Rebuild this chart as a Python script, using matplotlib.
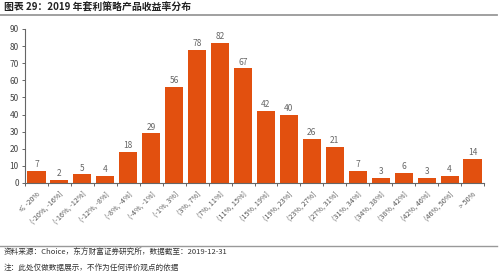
import matplotlib
matplotlib.use("Agg")
import matplotlib.pyplot as plt
from matplotlib.lines import Line2D

plt.rcParams['font.family'] = ['Noto Sans CJK SC', 'DejaVu Sans']

categories = ["≤ -20%", "(-20%, -16%]", "(-16%, -12%]", "(-12%, -8%]", "(-8%, -4%]",
              "(-4%, -1%]", "(-1%, 3%]", "(3%, 7%]", "(7%, 11%]", "(11%, 15%]",
              "(15%, 19%]", "(19%, 23%]", "(23%, 27%]", "(27%, 31%]", "(31%, 34%]",
              "(34%, 38%]", "(38%, 42%]", "(42%, 46%]", "(46%, 50%]", "> 50%"]
values = [7, 2, 5, 4, 18, 29, 56, 78, 82, 67, 42, 40, 26, 21, 7, 3, 6, 3, 4, 14]
yticks = [0, 10, 20, 30, 40, 50, 60, 70, 80, 90]

title = "图表 29：2019 年套利策略产品收益率分布"
source = "资料来源：Choice，东方财富证券研究所，数据截至：2019-12-31"
note = "注：此处仅做数据展示，不作为任何评价观点的依据"

W, H = 499, 276
fig = plt.figure(figsize=(W/100, H/100), dpi=100)
ax = fig.add_axes([25/W, 1-183/H, (484-25)/W, (183-29)/H])

bar_color = "#E2500F"
x = list(range(len(categories)))
bars = ax.bar(x, values, width=0.79, color=bar_color, zorder=2)
for xi, v in zip(x, values):
    ax.text(xi, v + 1.0, str(v), ha='center', va='bottom', fontsize=6,
            color='#666666')

ax.set_xlim(-0.5, len(categories) - 0.5)
ax.set_ylim(0, 90)
ax.set_yticks(yticks)
ax.set_yticklabels([str(t) for t in yticks], fontsize=6, color='#444444')
ax.set_xticks([i - 0.5 for i in range(len(categories) + 1)], minor=False)
ax.set_xticklabels([])
ax.set_xticks(x, minor=True)
ax.set_xticklabels(categories, minor=True, rotation=45, ha='right',
                   rotation_mode='anchor', fontsize=5.2, color='#555555')
ax.tick_params(axis='x', which='minor', length=0, pad=5)
ax.tick_params(axis='x', which='major', length=2.5, width=0.7, color='#666666')
ax.tick_params(axis='y', length=2.5, width=0.7, color='#666666', pad=2)
for s in ['top', 'right']:
    ax.spines[s].set_visible(False)
for s in ['left', 'bottom']:
    ax.spines[s].set_color('#666666')
    ax.spines[s].set_linewidth(0.8)

fig.text(4/W, 1-8/H, title, fontsize=7.1, fontweight='bold', color='#222222',
         va='center', ha='left')
fig.add_artist(Line2D([0, 497/W], [1-15/H, 1-15/H], color='#999999', lw=1.3))
fig.add_artist(Line2D([0, 497/W], [1-246/H, 1-246/H], color='#999999', lw=1.0))
fig.text(4/W, 1-253/H, source, fontsize=5.5, color='#333333', va='center', ha='left')
fig.text(4/W, 1-268/H, note, fontsize=5.5, color='#333333', va='center', ha='left')

fig.savefig("out.png", dpi=100)
